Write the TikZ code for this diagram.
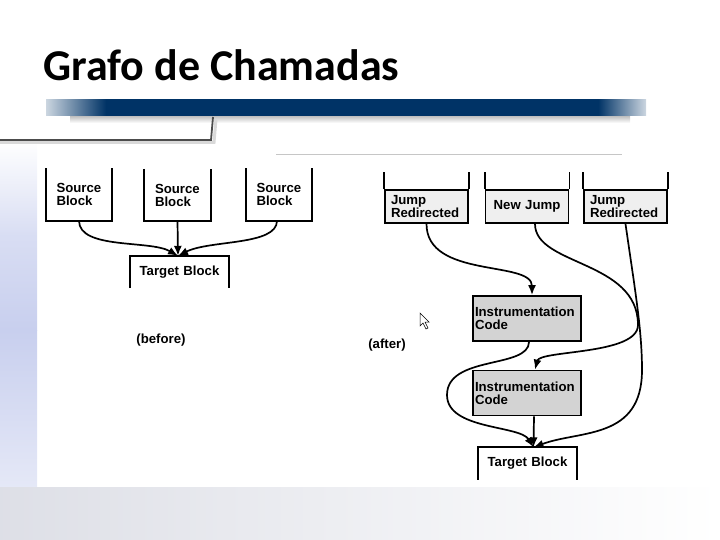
\documentclass[tikz,border=0pt]{standalone}
\usepackage{fontspec}
\setmainfont{Liberation Sans}
\newfontfamily\titlefont{Carlito}
\usetikzlibrary{arrows.meta}
\definecolor{navy}{RGB}{0,51,102}
\definecolor{jumpfill}{RGB}{239,239,239}
\definecolor{codefill}{RGB}{211,211,211}
\definecolor{haze}{RGB}{200,207,238}
\pgfdeclarehorizontalshading{barshade}{100bp}{color(0bp)=(white); color(25bp)=(white!80!navy);
  color(30bp)=(navy); color(71bp)=(navy); color(75bp)=(white!80!navy); color(100bp)=(white)}

\begin{document}
\begin{tikzpicture}[x=1pt, y=-1pt, >={Latex[length=10pt,width=8pt]},
  lbl/.style={font=\fontsize{13.2}{13}\selectfont\bfseries},
  srcbox/.style={lbl, align=left, text width=45pt, inner xsep=10.5pt, minimum height=52pt},
  tgtbox/.style={lbl, align=center, text width=99pt, inner xsep=0pt, minimum height=32pt},
  jmpbox/.style={lbl, draw, line width=1.8pt, fill=jumpfill, text width=71pt, inner xsep=6pt, minimum height=33pt},
  codebox/.style={lbl, draw, line width=1.8pt, fill=codefill, align=left, text width=104pt, inner xsep=2pt, minimum height=45pt},
  boxline/.style={line width=1.8pt},
  conn/.style={line width=1.7pt, ->}]
  \useasboundingbox (0,0) rectangle (720,540);

  % slide background
  \shade[top color=white, bottom color=haze, middle color=haze!70] (0,140) rectangle (37,330);
  \shade[top color=haze, bottom color=haze!30] (0,330) rectangle (37,540);
  \shade[left color=haze!60!gray!40, right color=white] (0,487) rectangle (720,540);

  % title
  \node[anchor=base west, font=\titlefont\fontsize{44}{44}\selectfont\bfseries] (title) at (40,81) {Grafo de Chamadas};

  % title bar
  \shade[top color=gray!50, bottom color=white] (70,116) rectangle (630,123);
  \shade[shading=barshade] (46,100) rectangle (646,116);
  \draw[gray!30, line width=3pt] (0,142.5) -- (214,142.5) -- (216,119);
  \draw[gray!60!black, line width=1.8pt] (0,140) -- (211,140) -- (213,117);
  \draw[gray!45, line width=0.7pt] (276,154) -- (622,154);

  % before
  \node[srcbox] (s1) at (79,194.5) {Source\\Block};
  \node[srcbox] (s2) at (177.5,195) {Source\\Block};
  \node[srcbox] (s3) at (279,194.5) {Source\\Block};
  \node[tgtbox] (tb) at (179.5,272) {Target Block};
  \foreach \b in {s1,s2,s3}
    \draw[boxline] (\b.north west) -- (\b.south west) -- (\b.south east) -- (\b.north east);
  \draw[boxline] (tb.south west) -- (tb.north west) -- (tb.north east) -- (tb.south east);
  \coordinate (tbin) at ([xshift=-1.5pt]tb.north);
  \draw[conn] (s1.south) .. controls +(0,29) and +(-28,-16) .. (tbin);
  \draw[conn] (s2.south) -- (tbin);
  \draw[conn] ([xshift=-2pt]s3.south) .. controls +(0,25) and +(32,-16) .. (tbin);
  \node[lbl] (before) at (161,340) {(before)};

  % after
  \node[jmpbox, align=left] (j1) at (426.5,206.5) {Jump\\Redirected};
  \node[jmpbox, align=center] (j2) at (527,206.5) {New Jump};
  \node[jmpbox, align=left] (j3) at (625.5,206.5) {Jump\\Redirected};
  \foreach \b in {j1,j2,j3}
    \draw[boxline] (\b.north west) -- ++(0,-17) (\b.north east) -- ++(0,-17);
  \node[codebox] (c1) at (527,318.5) {Instrumentation\\Code};
  \node[codebox] (c2) at (527,393) {Instrumentation\\Code};
  \node[tgtbox] (ta) at (527.5,463.5) {Target Block};
  \draw[boxline] (ta.south west) -- (ta.north west) -- (ta.north east) -- (ta.south east);
  \coordinate (c1in) at ([xshift=5pt]c1.north);
  \coordinate (c2in) at ([xshift=8pt]c2.north);
  \coordinate (tain) at ([xshift=6pt]ta.north);
  \coordinate (c1out) at ([xshift=2pt]c1.south);
  \coordinate (c2out) at ([xshift=7pt]c2.south);
  \coordinate (newout) at ([xshift=8pt]j2.south);
  \draw[conn] (j1.south) .. controls +(0,55) and +(0,-35) .. (c1in);
  \draw[conn] (newout) .. controls +(0,42) and (638,260) .. (638,325)
    .. controls (638,355) and (540,350) .. (c2in);
  \draw[conn] (j3.south) .. controls (635,290) and (642,330) .. (642,370)
    .. controls (642,440) and (580,430) .. (tain);
  \draw[conn] (c1out) .. controls +(0,27) and (447,355) .. (447,395)
    .. controls (447,430) and (520,425) .. (tain);
  \draw[conn] (c2out) -- (tain);
  \node[lbl] (after) at (387,345) {(after)};

  % mouse pointer
  \draw[line width=0.5pt, fill=white] (420,313) -- (420,326) -- (423,323) -- (426,329)
    -- (428,328) -- (425,322) -- (429,322) -- cycle;
\end{tikzpicture}
\end{document}
